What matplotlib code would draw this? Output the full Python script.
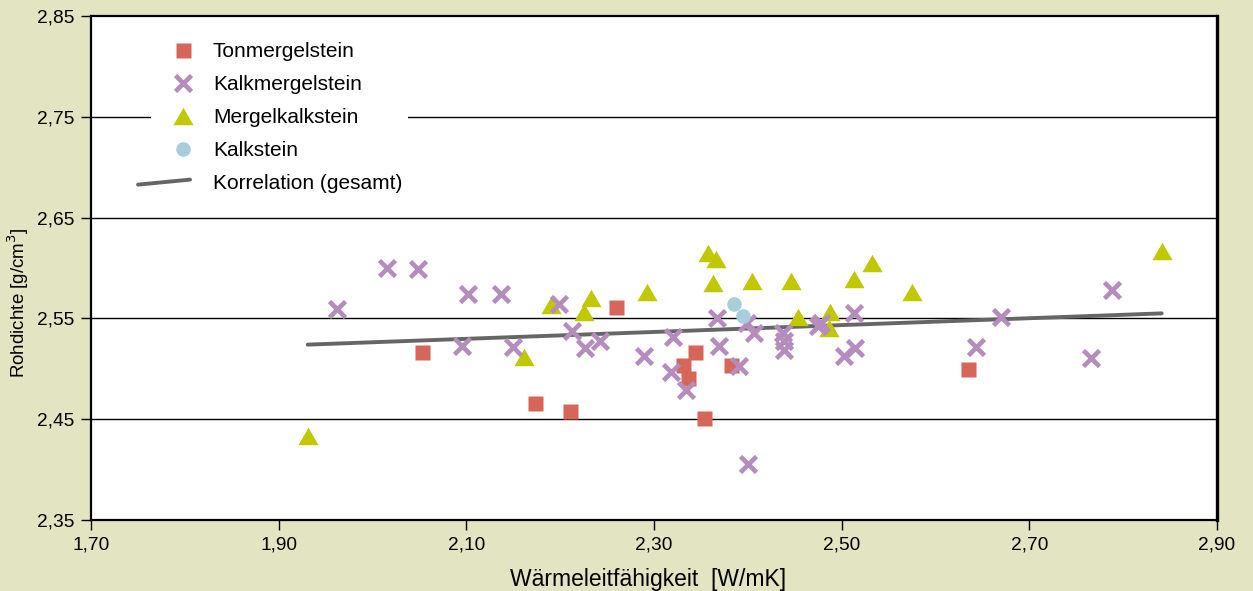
import numpy as np
import matplotlib
matplotlib.use("Agg")
import matplotlib.pyplot as plt
from matplotlib.lines import Line2D
from matplotlib.legend_handler import HandlerBase
from matplotlib.path import Path

plt.rcParams['font.family'] = ['Liberation Sans', 'DejaVu Sans']

# Tonmergelstein
ton_x = [2.053, 2.173, 2.211, 2.259, 2.331, 2.336, 2.344, 2.353, 2.382, 2.635]
ton_y = [2.517, 2.466, 2.458, 2.561, 2.504, 2.491, 2.517, 2.451, 2.504, 2.500]

# Kalkmergelstein
kmg_x = [1.962, 2.015, 2.049, 2.095, 2.102, 2.137, 2.150, 2.199, 2.213, 2.226,
         2.242, 2.289, 2.320, 2.318, 2.334, 2.367, 2.369, 2.391, 2.399, 2.407,
         2.437, 2.438, 2.438, 2.400, 2.475, 2.478, 2.513, 2.503, 2.514, 2.643,
         2.670, 2.766, 2.788]
kmg_y = [2.559, 2.600, 2.599, 2.523, 2.574, 2.574, 2.522, 2.564, 2.538, 2.521,
         2.528, 2.513, 2.532, 2.497, 2.479, 2.550, 2.523, 2.503, 2.545, 2.536,
         2.536, 2.528, 2.519, 2.406, 2.542, 2.545, 2.555, 2.513, 2.521, 2.522,
         2.551, 2.511, 2.578]

# Mergelkalkstein
mkk_x = [1.931, 2.161, 2.190, 2.225, 2.233, 2.293, 2.358, 2.366, 2.363, 2.404,
         2.446, 2.453, 2.488, 2.486, 2.513, 2.532, 2.575, 2.841]
mkk_y = [2.433, 2.512, 2.563, 2.556, 2.570, 2.576, 2.615, 2.609, 2.585, 2.587,
         2.587, 2.551, 2.556, 2.540, 2.589, 2.605, 2.576, 2.617]

# Kalkstein
kst_x = [2.385, 2.395]
kst_y = [2.564, 2.552]

# Korrelation (gesamt)
kor_x = [1.931, 2.841]
kor_y = [2.524, 2.555]

bg = '#e2e4c2'
tri = Path([(-1, -0.866), (1, -0.866), (0, 0.866), (-1, -0.866)],
           [Path.MOVETO, Path.LINETO, Path.LINETO, Path.CLOSEPOLY])


class SketchHandler(HandlerBase):
    # marker sits right in the handle box, the line sample is a slanted stroke
    def create_artists(self, legend, orig, xd, yd, w, h, fs, trans):
        y = h / 2 - yd
        if orig.get_marker() in (None, 'None', ''):
            art = Line2D([-0.48 * w - xd, 0.82 * w - xd], [y - 2.2, y + 1.4])
            art.update_from(orig)
        else:
            art = Line2D([0.64 * w - xd], [y])
            art.update_from(orig)
        art.set_transform(trans)
        return [art]


fig = plt.figure(figsize=(12.53, 5.91), dpi=100, facecolor=bg)
ax = fig.add_axes([0.0726, 0.1201, 0.8987, 0.8528])

ax.plot(kor_x, kor_y, color='#666666', lw=2.8, solid_capstyle='round',
        zorder=2, label='Korrelation (gesamt)')
ax.plot(ton_x, ton_y, ls='none', marker='s', ms=10.8, mec='none',
        color='#d6665a', zorder=3, label='Tonmergelstein')
ax.plot(mkk_x, mkk_y, ls='none', marker=tri, ms=14.5, mec='none',
        color='#bfc800', zorder=3, label='Mergelkalkstein')
ax.plot(kmg_x, kmg_y, ls='none', marker='x', ms=12, mew=3.3,
        color='#b48cbe', zorder=4, label='Kalkmergelstein')
ax.plot(kst_x, kst_y, ls='none', marker='o', ms=10.5, mec='none',
        color='#a8cedc', zorder=5, label='Kalkstein')

ax.set_xlim(1.70, 2.90)
ax.set_ylim(2.35, 2.85)
xt = np.arange(1.70, 2.91, 0.20)
yt = np.arange(2.35, 2.86, 0.10)
ax.set_xticks(xt)
ax.set_yticks(yt)
ax.set_xticklabels([f'{v:.2f}'.replace('.', ',') for v in xt])
ax.set_yticklabels([f'{v:.2f}'.replace('.', ',') for v in yt])
ax.tick_params(direction='out', length=7, width=1, labelsize=13.8, pad=5)

for v in yt[1:-1]:
    ax.axhline(v, color='black', lw=1, zorder=1)

for s in ax.spines.values():
    s.set_linewidth(1.6)
ax.spines['right'].set_linewidth(2.4)

ax.set_xlabel('Wärmeleitfähigkeit  [W/mK]', fontsize=16.5)
ax.xaxis.set_label_coords(0.495, -0.096)
ax.set_ylabel('Rohdichte [g/cm$^3$]', fontsize=13.5)
ax.yaxis.set_label_coords(-0.0535, 0.431)

handles, labels = ax.get_legend_handles_labels()
order = ['Tonmergelstein', 'Kalkmergelstein', 'Mergelkalkstein', 'Kalkstein',
         'Korrelation (gesamt)']
hs = [handles[labels.index(n)] for n in order]
leg = ax.legend(hs, order, loc='upper left', bbox_to_anchor=(0.0533, 0.964),
                borderaxespad=0, fontsize=15, frameon=True, fancybox=False,
                framealpha=1, facecolor='white', edgecolor='none',
                borderpad=0.3, handlelength=1.92, handletextpad=0.75,
                handleheight=1.0, labelspacing=0.6,
                handler_map={Line2D: SketchHandler()})
leg.set_zorder(6)

fig.savefig('out.png', dpi=100, facecolor=bg)
